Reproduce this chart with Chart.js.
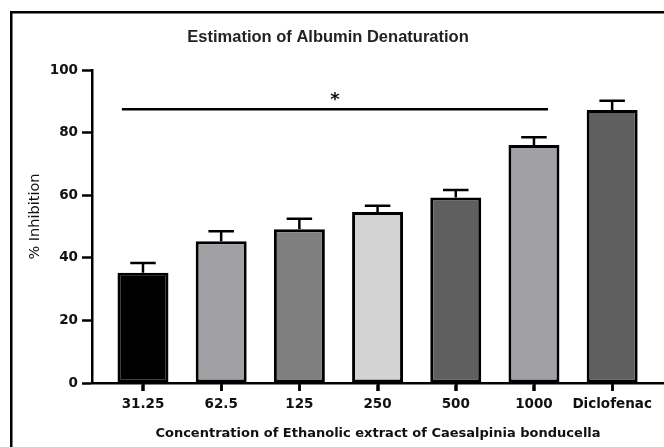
<!DOCTYPE html>
<html><head><meta charset="utf-8">
<script src="https://cdn.jsdelivr.net/npm/chart.js@4"></script>
<style>html,body{margin:0;padding:0;background:#fff}canvas{display:block}</style>
</head><body>
<canvas id="c" width="664" height="447"></canvas>
<script>
const categories = ['31.25', '62.5', '125', '250', '500', '1000', 'Diclofenac'];
const inhibition = [35.2, 45.3, 49.1, 54.6, 59.3, 76.0, 87.2];
const errorSEM = [3.1, 3.2, 3.4, 2.0, 2.4, 2.5, 3.0];
const barColors = ['#000000', '#a1a1a5', '#7f7f7f', '#d3d3d3', '#5f5f5f', '#a1a1a5', '#5f5f5f'];
const yTicks = [0, 20, 40, 60, 80, 100];
const significance = { from: -0.27, to: 5.18, value: 87.5, mark: '*' };
const chartTitle = 'Estimation of Albumin Denaturation';
const yTitle = '% Inhibition';
const xTitle = 'Concentration of Ethanolic extract of Caesalpinia bonducella';

const tickFont = { family: '"DejaVu Sans", sans-serif', size: 13.5, weight: 'bold' };
const xTitleFont = { family: '"DejaVu Sans", sans-serif', size: 13, weight: 'bold' };

const frame = {
  id: 'frame',
  beforeDraw(chart) {
    const ctx = chart.ctx;
    ctx.save();
    ctx.fillStyle = '#000';
    ctx.fillRect(10, 11, 2.5, chart.height);
    ctx.fillRect(10, 11, chart.width, 2.5);
    ctx.restore();
  }
};

const errorBars = {
  id: 'errorBars',
  afterDatasetsDraw(chart) {
    const { ctx, scales: { x, y } } = chart;
    const meta = chart.getDatasetMeta(0);
    ctx.save();
    ctx.strokeStyle = '#000';
    ctx.lineWidth = 2.5;
    inhibition.forEach((v, i) => {
      const bar = meta.data[i];
      const px = x.getPixelForValue(i);
      const top = y.getPixelForValue(v + errorSEM[i]);
      const base = y.getPixelForValue(v);
      const half = bar.width / 4;
      ctx.beginPath();
      ctx.moveTo(px, base); ctx.lineTo(px, top);
      ctx.moveTo(px - half, top); ctx.lineTo(px + half, top);
      ctx.stroke();
    });
    const sy = y.getPixelForValue(significance.value);
    ctx.beginPath();
    ctx.moveTo(x.getPixelForValue(significance.from), sy);
    ctx.lineTo(x.getPixelForValue(significance.to), sy);
    ctx.stroke();
    ctx.font = 'bold 18px "DejaVu Sans", sans-serif';
    ctx.textAlign = 'center';
    ctx.textBaseline = 'alphabetic';
    ctx.fillStyle = '#111';
    ctx.fillText(significance.mark, x.getPixelForValue((significance.from + significance.to) / 2), sy - 4);
    ctx.restore();
  }
};

const titles = {
  id: 'titles',
  afterDraw(chart) {
    const { ctx, scales: { x, y } } = chart;
    ctx.save();
    ctx.strokeStyle = '#000';
    ctx.lineWidth = 2.5;
    x.ticks.forEach((t, i) => {
      const px = Math.round(x.getPixelForTick(i)) + 0.5;
      ctx.beginPath();
      ctx.moveTo(px, x.top);
      ctx.lineTo(px, x.top + 8);
      ctx.stroke();
    });
    ctx.fillStyle = '#222';
    ctx.textAlign = 'center';
    ctx.textBaseline = 'middle';
    ctx.font = 'bold 16.5px "Liberation Sans", Arial, sans-serif';
    ctx.fillText(chartTitle, 328, 37);
    ctx.translate(35, y.getPixelForValue(50) - 10);
    ctx.rotate(-Math.PI / 2);
    ctx.font = '14.5px "DejaVu Sans", sans-serif';
    ctx.fillStyle = '#111';
    ctx.fillText(yTitle, 0, 0);
    ctx.restore();
  }
};

new Chart(document.getElementById('c'), {
  type: 'bar',
  data: {
    datasets: [{
      data: inhibition.map((v, i) => ({ x: i, y: v })),
      backgroundColor: barColors,
      borderColor: '#000',
      borderWidth: 3,
      borderSkipped: false,
      categoryPercentage: 1,
      barPercentage: 0.652
    }]
  },
  options: {
    responsive: false,
    devicePixelRatio: 1,
    animation: false,
    layout: { padding: { top: 70, left: 14, right: 0, bottom: 0 } },
    plugins: {
      legend: { display: false },
      tooltip: { enabled: false },
      title: { display: false }
    },
    scales: {
      x: {
        type: 'linear',
        min: -0.652,
        max: 6.663,
        offset: false,
        afterBuildTicks: s => { s.ticks = categories.map((_, i) => ({ value: i })); },
        afterFit: s => { s.height = 64; },
        ticks: {
          callback: v => categories[Math.round(v)],
          font: tickFont, color: '#111', padding: 5.5, maxRotation: 0, autoSkip: false
        },
        grid: { offset: false, drawOnChartArea: false, drawTicks: true, tickLength: 8, tickWidth: 2.5, tickColor: '#000' },
        border: { display: true, color: '#000', width: 2.5 },
        title: {
          display: true,
          text: xTitle,
          font: xTitleFont, color: '#111', padding: { top: 0, bottom: 6 }
        }
      },
      y: {
        min: 0,
        max: 100,
        afterBuildTicks: s => { s.ticks = yTicks.map(v => ({ value: v })); },
        afterFit: s => { s.width = 78; },
        ticks: { font: tickFont, color: '#111', padding: 4 },
        grid: { drawOnChartArea: false, drawTicks: true, tickLength: 10, tickWidth: 2.5, tickColor: '#000' },
        border: { display: true, color: '#000', width: 2.5 },
        title: { display: false }
      }
    }
  },
  plugins: [frame, errorBars, titles]
});
</script>
</body></html>
